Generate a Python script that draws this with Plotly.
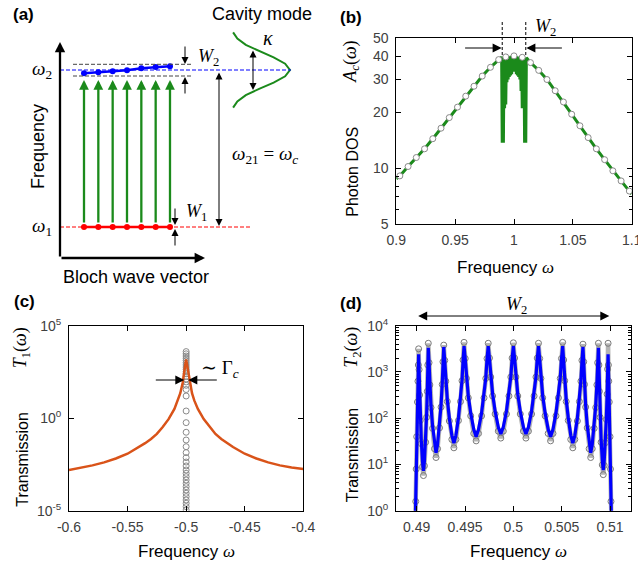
import math
import plotly.graph_objects as go

# ======================= DATA =======================
# (a) schematic band diagram  (frequency units: omega1 = 0, omega2 = 1)
k_points = [1, 2, 3, 4, 5, 6, 7]
band1_freq = [0, 0, 0, 0, 0, 0, 0]
band2_freq = [0.979, 0.985, 0.992, 0.998, 1.011, 1.019, 1.024]
cavity_freq = [1.24, 1.20, 1.16, 1.12, 1.08, 1.04, 1.00, 0.96, 0.92, 0.88, 0.84, 0.80, 0.76]
cavity_amp = [0.06, 0.13, 0.27, 0.49, 0.73, 0.92, 1.00, 0.92, 0.73, 0.49, 0.27, 0.13, 0.06]

# (b) photon DOS
b_line_x = [0.900, 0.903, 0.910, 0.917, 0.924, 0.931, 0.938, 0.945, 0.952, 0.959, 0.966, 0.973, 0.980, 0.987,
            0.9895, 0.9900, 0.9905, 0.9910, 0.9915, 0.9920, 0.9925, 0.9930, 0.9935, 0.9940, 0.9945,
            0.9950, 0.9955, 0.9960, 0.9965, 0.9970, 0.9975, 0.9980, 0.9985, 0.9990, 0.9995, 1.0000,
            1.0005, 1.0010, 1.0015, 1.0020, 1.0025, 1.0030, 1.0035, 1.0040, 1.0045, 1.0050, 1.0055,
            1.0060, 1.0065, 1.0070, 1.0075, 1.0080, 1.0085, 1.0090, 1.0095, 1.0100, 1.0105,
            1.014, 1.021, 1.028, 1.035, 1.042, 1.049, 1.056, 1.063, 1.070, 1.077, 1.084, 1.091, 1.098, 1.100]
b_line_y = [8.75, 9.08, 10.2, 11.4, 12.7, 14.4, 16.4, 18.7, 21.3, 24.4, 27.6, 31.3, 34.9, 38.4,
            39.6, 13.7, 39.8, 13.7, 40.0, 21.0, 40.0, 22.0, 39.8, 29.0, 39.6,
            30.0, 39.8, 31.0, 40.0, 31.5, 40.2, 32.0, 40.0, 34.0, 40.2, 33.0,
            40.2, 34.0, 40.0, 32.0, 40.0, 31.5, 39.8, 31.0, 39.6, 30.0, 39.6,
            26.0, 39.5, 21.0, 39.5, 21.5, 39.5, 13.7, 39.5, 13.7, 39.3,
            37.0, 33.6, 30.0, 26.1, 22.7, 19.5, 16.9, 14.6, 12.7, 11.1, 9.67, 8.53, 7.52, 7.25]
b_mark_x = [0.903, 0.910, 0.917, 0.924, 0.931, 0.938, 0.945, 0.952, 0.959, 0.966, 0.973, 0.980, 0.987,
            0.993, 1.000, 1.007,
            1.014, 1.021, 1.028, 1.035, 1.042, 1.049, 1.056, 1.063, 1.070, 1.077, 1.084, 1.091, 1.098]
b_mark_y = [9.08, 10.2, 11.4, 12.7, 14.4, 16.4, 18.7, 21.3, 24.4, 27.6, 31.3, 34.9, 38.4,
            39.7, 40.2, 39.5,
            37.0, 33.6, 30.0, 26.1, 22.7, 19.5, 16.9, 14.6, 12.7, 11.1, 9.67, 8.53, 7.52]
b_xticks = [0.9, 0.95, 1.0, 1.05, 1.1]
b_xticklabels = ["0.9", "0.95", "1", "1.05", "1.1"]
b_yticks = [5, 10, 20, 30, 40, 50]
b_yticklabels = ["5", "10", "20", "30", "40", "50"]
b_yminor = [6, 7, 8, 9]

# (c) transmission T1 (log10 values)
c_line_x = [-0.600, -0.590, -0.580, -0.570, -0.560, -0.550, -0.540, -0.535, -0.530, -0.525, -0.520, -0.515,
            -0.510, -0.507, -0.505, -0.503, -0.502, -0.501, -0.5005, -0.500, -0.4995, -0.499, -0.498, -0.497,
            -0.495, -0.493, -0.490, -0.485, -0.480, -0.475, -0.470, -0.465, -0.460, -0.450, -0.440, -0.430,
            -0.420, -0.410, -0.400]
c_line_log = [-2.80, -2.68, -2.55, -2.39, -2.18, -1.92, -1.56, -1.35, -1.12, -0.85, -0.48, -0.05,
              0.50, 0.95, 1.35, 1.90, 2.25, 2.75, 3.00, 3.18, 3.00, 2.75, 2.25, 1.90,
              1.35, 0.95, 0.50, -0.05, -0.48, -0.85, -1.12, -1.35, -1.56, -1.92, -2.18, -2.39,
              -2.55, -2.66, -2.75]
c_mark_freq = -0.5
c_mark_log = [3.60, 3.48, 3.36, 3.24, 3.12, 3.00, 2.88, 2.76, 2.64, 2.52, 2.40, 2.26, 2.12, 1.96, 1.78,
              1.55, 1.20, 0.39, -0.24, -0.76, -1.18, -1.54, -1.86, -2.13, -2.37, -2.58, -2.80, -2.98,
              -3.16, -3.34, -3.52, -3.70, -3.88, -4.06, -4.24, -4.42, -4.60, -4.78, -4.96]
c_xticks = [-0.6, -0.55, -0.5, -0.45, -0.4]
c_xticklabels = ["-0.6", "-0.55", "-0.5", "-0.45", "-0.4"]
c_yticks = [1e-5, 1e0, 1e5]
c_yticklabels = ["10<sup>-5</sup>", "10<sup>0</sup>", "10<sup>5</sup>"]

# (d) transmission T2 (log10 values)
d_x = [0.48986, 0.48990, 0.48995, 0.49000, 0.49008, 0.49013, 0.49017, 0.49020,
       0.49025, 0.49030, 0.490375, 0.490475, 0.49060, 0.49070, 0.49080, 0.490925, 0.491025, 0.49110, 0.49115, 0.49120,
       0.49128, 0.49136, 0.49148, 0.49164, 0.49184, 0.49200, 0.49216, 0.49236, 0.49252, 0.49264, 0.49272, 0.49280,
       0.492905, 0.49301, 0.493168, 0.493378, 0.49364, 0.49385, 0.49406, 0.494322, 0.494532, 0.49469, 0.494795, 0.49490,
       0.495025, 0.49515, 0.495338, 0.495588, 0.49590, 0.49615, 0.49640, 0.496713, 0.496963, 0.49715, 0.497275, 0.49740,
       0.49753, 0.49766, 0.497855, 0.498115, 0.49844, 0.49870, 0.49896, 0.499285, 0.499545, 0.49974, 0.49987, 0.50000,
       0.50013, 0.50026, 0.500455, 0.500715, 0.50104, 0.50130, 0.50156, 0.501885, 0.502145, 0.50234, 0.50247, 0.50260,
       0.502725, 0.50285, 0.503037, 0.503287, 0.50360, 0.50385, 0.50410, 0.504412, 0.504662, 0.50485, 0.504975, 0.50510,
       0.505205, 0.50531, 0.505468, 0.505678, 0.50594, 0.50615, 0.50636, 0.506622, 0.506832, 0.50699, 0.507095, 0.50720,
       0.50728, 0.50736, 0.50748, 0.50764, 0.50784, 0.50800, 0.50816, 0.50836, 0.50852, 0.50864, 0.50872, 0.50880,
       0.50885, 0.50890, 0.508975, 0.509075, 0.50920, 0.50930, 0.50940, 0.509525, 0.509625, 0.50970, 0.50975, 0.50980,
       0.50983, 0.50987, 0.50992, 0.51000, 0.51005, 0.51010, 0.51014]
d_line_log = [-0.20, 0.30, 1.00, 1.70, 2.40, 2.80, 3.10, 3.38,
              3.00, 2.50, 1.99, 1.52, 1.06, 0.86, 1.07, 1.55, 2.06, 2.59, 3.12, 3.52,
              3.18, 2.73, 2.27, 1.84, 1.43, 1.25, 1.43, 1.85, 2.28, 2.74, 3.20, 3.54,
              3.23, 2.81, 2.40, 2.00, 1.63, 1.46, 1.63, 2.01, 2.40, 2.82, 3.24, 3.56,
              3.27, 2.87, 2.48, 2.11, 1.76, 1.60, 1.76, 2.11, 2.48, 2.87, 3.27, 3.56,
              3.28, 2.90, 2.52, 2.15, 1.81, 1.66, 1.81, 2.15, 2.52, 2.90, 3.28, 3.56,
              3.28, 2.90, 2.52, 2.15, 1.81, 1.66, 1.81, 2.15, 2.52, 2.90, 3.28, 3.56,
              3.27, 2.87, 2.48, 2.11, 1.76, 1.60, 1.76, 2.11, 2.48, 2.87, 3.27, 3.56,
              3.24, 2.82, 2.40, 2.01, 1.63, 1.46, 1.63, 2.00, 2.40, 2.81, 3.23, 3.54,
              3.20, 2.74, 2.28, 1.85, 1.43, 1.25, 1.43, 1.84, 2.27, 2.73, 3.18, 3.52,
              3.12, 2.59, 2.06, 1.55, 1.10, 0.88, 1.08, 1.54, 2.01, 2.52, 3.02, 3.38,
              3.10, 2.80, 2.40, 1.70, 1.00, 0.30, -0.20]
d_mark_log = [-0.20, 0.20, 0.90, 1.60, 2.35, 2.80, 3.15, 3.50,
              3.05, 2.50, 1.95, 1.45, 0.95, 0.76, 0.97, 1.48, 2.02, 2.58, 3.15, 3.62,
              3.20, 2.72, 2.23, 1.78, 1.34, 1.15, 1.34, 1.79, 2.24, 2.73, 3.22, 3.58,
              3.25, 2.80, 2.36, 1.94, 1.54, 1.36, 1.54, 1.95, 2.36, 2.81, 3.26, 3.64,
              3.29, 2.86, 2.44, 2.05, 1.67, 1.51, 1.67, 2.05, 2.44, 2.86, 3.29, 3.62,
              3.30, 2.89, 2.48, 2.09, 1.72, 1.57, 1.72, 2.09, 2.48, 2.89, 3.30, 3.63,
              3.30, 2.89, 2.48, 2.09, 1.72, 1.57, 1.72, 2.09, 2.48, 2.89, 3.30, 3.62,
              3.29, 2.86, 2.44, 2.05, 1.67, 1.51, 1.67, 2.05, 2.44, 2.86, 3.29, 3.64,
              3.26, 2.81, 2.36, 1.95, 1.54, 1.36, 1.54, 1.94, 2.36, 2.80, 3.25, 3.60,
              3.22, 2.73, 2.24, 1.79, 1.34, 1.15, 1.34, 1.78, 2.23, 2.72, 3.20, 3.62,
              3.15, 2.58, 2.02, 1.48, 0.99, 0.78, 0.98, 1.47, 1.97, 2.52, 3.06, 3.62,
              3.15, 2.80, 2.35, 1.60, 0.90, 0.20, -0.20]
d_xticks = [0.49, 0.495, 0.5, 0.505, 0.51]
d_xticklabels = ["0.49", "0.495", "0.5", "0.505", "0.51"]
d_yticks = [1, 10, 100, 1000, 10000]
d_yticklabels = ["10<sup>0</sup>", "10<sup>1</sup>", "10<sup>2</sup>", "10<sup>3</sup>", "10<sup>4</sup>"]
d_yminor = [2, 3, 4, 5, 6, 7, 8, 9, 20, 30, 40, 50, 60, 70, 80, 90, 200, 300, 400, 500, 600, 700, 800, 900,
            2000, 3000, 4000, 5000, 6000, 7000, 8000, 9000]

# ======================= LAYOUT HELPERS =======================
W, H = 638, 569
def PX(x):
    return x / W
def PY(y):
    return 1 - y / H

SANS = "Liberation Sans, Arial, Helvetica, sans-serif"
SERIF = "Liberation Serif, Times New Roman, DejaVu Serif, serif"
GREEN = "#1b8a1b"
ORANGE = "#d95319"
BLUE = "#0000ff"
TICKC = "#404040"

# panel (a) hidden axis mapping (k units / frequency units)
A_PX_PER_K = 14.333
A_K0_PX = 84.0 - A_PX_PER_K        # pixel of k = 0
A_PX_PER_W = 157.0
A_W0_PX = 227.0                    # pixel of omega1
a_xrange = [(0 - A_K0_PX) / A_PX_PER_K, (319 - A_K0_PX) / A_PX_PER_K]
a_yrange = [(A_W0_PX - 290) / A_PX_PER_W, (A_W0_PX - 0) / A_PX_PER_W]

fig = go.Figure()

# ---------- (a) traces ----------
cav_x = [11.15 + 4.22 * a for a in cavity_amp]
fig.add_trace(go.Scatter(x=cav_x, y=cavity_freq, mode="lines", line=dict(color=GREEN, width=2),
                         xaxis="x4", yaxis="y4", hoverinfo="skip"))
fig.add_trace(go.Scatter(x=k_points, y=band1_freq, mode="lines+markers",
                         line=dict(color="#ff0000", width=2.5),
                         marker=dict(color="#ff0000", size=6), xaxis="x4", yaxis="y4"))
fig.add_trace(go.Scatter(x=k_points, y=band2_freq, mode="lines+markers",
                         line=dict(color=BLUE, width=2.5),
                         marker=dict(color=BLUE, size=6), xaxis="x4", yaxis="y4"))

# ---------- (b) traces ----------
fig.add_trace(go.Scatter(x=b_line_x, y=b_line_y, mode="lines", line=dict(color=GREEN, width=3),
                         xaxis="x", yaxis="y"))
fig.add_trace(go.Scatter(x=b_mark_x, y=b_mark_y, mode="markers",
                         marker=dict(symbol="circle", size=6, color="white",
                                     line=dict(color="#8a8a8a", width=1)),
                         xaxis="x", yaxis="y"))

# ---------- (c) traces ----------
fig.add_trace(go.Scatter(x=[c_mark_freq] * len(c_mark_log), y=[10 ** v for v in c_mark_log], mode="markers",
                         marker=dict(symbol="circle-open", size=6, color="#8a8a8a", line=dict(width=1)),
                         xaxis="x2", yaxis="y2"))
fig.add_trace(go.Scatter(x=c_line_x, y=[10 ** v for v in c_line_log], mode="lines",
                         line=dict(color=ORANGE, width=2.5), xaxis="x2", yaxis="y2"))

# ---------- (d) traces ----------
fig.add_trace(go.Scatter(x=d_x, y=[10 ** v for v in d_mark_log], mode="lines+markers",
                         line=dict(color="#b4b4b4", width=4.5),
                         marker=dict(symbol="circle-open", size=6, color="#7a7a7a", line=dict(width=1)),
                         xaxis="x3", yaxis="y3"))
fig.add_trace(go.Scatter(x=d_x, y=[10 ** v for v in d_line_log], mode="lines",
                         line=dict(color=BLUE, width=3.2), xaxis="x3", yaxis="y3"))

# ---------- axes ----------
tickfont = dict(family=SANS, size=14, color=TICKC)
common = dict(showline=True, linecolor="black", linewidth=1, mirror="ticks", ticks="inside", ticklen=5,
              tickcolor="black", showgrid=False, zeroline=False, tickfont=tickfont, automargin=False,
              ticklabeloverflow="allow")
xcommon = dict(common, ticklabelstandoff=3)
ycommon = dict(common, ticklabelstandoff=4)

fig.update_layout(
    template="none",
    width=W, height=H, margin=dict(l=0, r=0, t=0, b=0, pad=0, autoexpand=False), autosize=False,
    paper_bgcolor="white", plot_bgcolor="white", showlegend=False,
    xaxis=dict(domain=[PX(396.3), PX(631.7)], range=[0.9, 1.1], anchor="y",
               tickvals=b_xticks, ticktext=b_xticklabels, **xcommon),
    yaxis=dict(domain=[PY(224), PY(38.3)], type="log", range=[math.log10(5), math.log10(50)], anchor="x",
               tickvals=b_yticks, ticktext=b_yticklabels,
               minor=dict(tickvals=b_yminor, ticks="inside", ticklen=3, tickcolor="black"), **ycommon),
    xaxis2=dict(domain=[PX(69), PX(303.3)], range=[-0.6, -0.4], anchor="y2",
                tickvals=c_xticks, ticktext=c_xticklabels, **xcommon),
    yaxis2=dict(domain=[PY(510.7), PY(325.7)], type="log", range=[-5, 5], anchor="x2",
                tickvals=c_yticks, ticktext=c_yticklabels, **ycommon),
    xaxis3=dict(domain=[PX(396), PX(631)], range=[0.48786, 0.51217], anchor="y3",
                tickvals=d_xticks, ticktext=d_xticklabels, **xcommon),
    yaxis3=dict(domain=[PY(510.7), PY(325.7)], type="log", range=[0, 4], anchor="x3",
                tickvals=d_yticks, ticktext=d_yticklabels,
                minor=dict(tickvals=d_yminor, ticks="inside", ticklen=3, tickcolor="black"), **ycommon),
    xaxis4=dict(domain=[0, PX(319)], range=a_xrange, visible=False, anchor="y4", fixedrange=True,
                automargin=False),
    yaxis4=dict(domain=[PY(290), 1], range=a_yrange, visible=False, anchor="x4", fixedrange=True,
                automargin=False),
)

ann = []
def text(x, y, s, size=16, family=SANS, angle=0, color="black"):
    ann.append(dict(x=PX(x), y=PY(y), xref="paper", yref="paper", text=s, showarrow=False,
                    font=dict(family=family, size=size, color=color), textangle=angle,
                    xanchor="center", yanchor="middle"))

def arrow(hx, hy, dx, dy, width=1.0, size=1.5, color="black", both=False):
    ann.append(dict(x=PX(hx), y=PY(hy), xref="paper", yref="paper", ax=dx, ay=dy, text="",
                    showarrow=True, arrowhead=2, arrowsize=size, arrowwidth=width, arrowcolor=color,
                    arrowside="end+start" if both else "end", standoff=0, startstandoff=0))

shapes = []
def dashed(x0, y0, x1, y1, color, width=1):
    shapes.append(dict(type="line", xref="paper", yref="paper", x0=PX(x0), y0=PY(y0), x1=PX(x1), y1=PY(y1),
                       line=dict(color=color, width=width, dash="4px,2px")))

# ----- panel labels -----
text(23, 14, "<b>(a)</b>", 17)
text(351, 17, "<b>(b)</b>", 17)
text(24, 302, "<b>(c)</b>", 17)
text(351, 303, "<b>(d)</b>", 17)

# ----- panel (a) decorations -----
dashed(60, 227, 252, 227, "#ff0000")
dashed(60, 70, 291, 70, BLUE)
dashed(73, 64.3, 192, 64.3, "#444444")
dashed(73, 76, 192, 76, "#444444")
arrow(60, 42, 0, 216, width=2.3, size=0.9)
arrow(205, 258, -145, 0, width=2.3, size=0.9)
for k, w1 in zip(k_points, band1_freq):
    ann.append(dict(x=k, y=0.936, xref="x4", yref="y4", ax=k, ay=w1, axref="x4", ayref="y4", text="",
                    showarrow=True, arrowhead=2, arrowsize=0.85, arrowwidth=2.3, arrowcolor=GREEN,
                    standoff=0, startstandoff=3))
arrow(185, 64, 0, -19, size=1.4)
arrow(185, 77, 0, 18, size=1.4)
arrow(175, 225, 0, -18, size=1.4)
arrow(175, 229, 0, 18, size=1.4)
arrow(219, 226, 0, -155, size=1.4, both=True)
arrow(253, 90, 0, -41, size=1.4, both=True)
text(42, 70, "<i>ω</i><sub>2</sub>", 19, SERIF)
text(42, 227, "<i>ω</i><sub>1</sub>", 19, SERIF)
text(208, 57, "<i>W</i><sub>2</sub>", 18, SERIF)
text(196, 212, "<i>W</i><sub>1</sub>", 18, SERIF)
text(268, 38, "<i>κ</i>", 20, SERIF)
text(265, 155, "<i>ω</i><sub>21</sub> = <i>ω</i><sub><i>c</i></sub>", 19, SERIF)
text(262, 14, "Cavity mode", 18)
text(38, 147, "Frequency", 18, angle=-90)
text(136, 277, "Bloch wave vector", 18)

# ----- panel (b) decorations -----
for xv in (0.99, 1.01):
    shapes.append(dict(type="line", xref="x", yref="paper", x0=xv, x1=xv, y0=PY(22), y1=PY(57),
                       line=dict(color="black", width=1, dash="3px,2px")))
arrow(501.6, 48, -38, 0, size=1.8)
arrow(526.4, 48, 37, 0, size=1.8)
text(545, 28, "<i>W</i><sub>2</sub>", 18, SERIF)
text(351.7, 172, "Photon DOS", 16, angle=-90)
text(351.7, 62, "<i>A</i><sub><i>c</i></sub>(<i>ω</i>)", 18, SERIF, angle=-90)
text(505.7, 268, "Frequency <span style='font-family:Liberation Serif'><i>ω</i></span>", 17)

# ----- panel (c) decorations -----
arrow(184.3, 380, -30, 0, size=1.8)
arrow(188.3, 380, 30, 0, size=1.8)
text(220, 369, "∼ Γ<sub><i>c</i></sub>", 19, SERIF)
text(21.7, 459, "Transmission", 16, angle=-90)
text(21.7, 347.5, "<i>T</i><sub>1</sub>(<i>ω</i>)", 18, SERIF, angle=-90)
text(186, 551, "Frequency <span style='font-family:Liberation Serif'><i>ω</i></span>", 17)

# ----- panel (d) decorations -----
arrow(609.3, 316, -192.6, 0, size=1.8, both=True)
text(516.7, 305, "<i>W</i><sub>2</sub>", 18, SERIF)
text(352.3, 455, "Transmission", 16, angle=-90)
text(352.3, 347.5, "<i>T</i><sub>2</sub>(<i>ω</i>)", 18, SERIF, angle=-90)
text(518.5, 551, "Frequency <span style='font-family:Liberation Serif'><i>ω</i></span>", 17)

fig.update_layout(annotations=ann, shapes=shapes)
fig.write_html("out.html", config={"displayModeBar": False, "staticPlot": True},
               post_script="document.body.style.margin='0px'; document.body.style.overflow='hidden';")
